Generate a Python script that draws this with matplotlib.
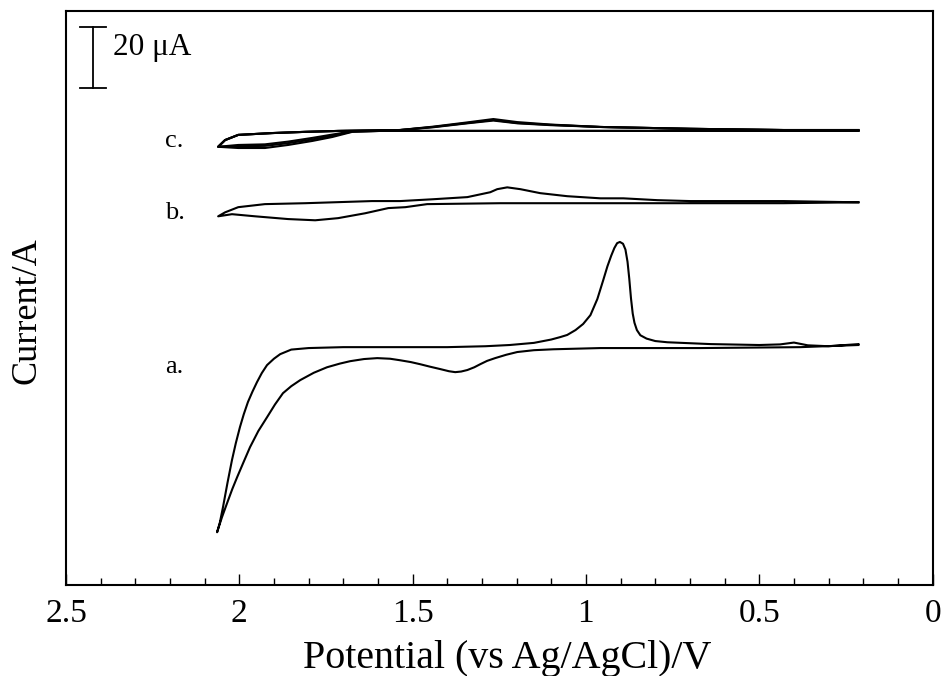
import numpy as np
import matplotlib
matplotlib.use("Agg")
import matplotlib.pyplot as plt
from matplotlib.ticker import MultipleLocator

plt.rcParams['font.family'] = ['Liberation Serif', 'DejaVu Serif']

# curve a : forward scan (0.21 V -> 2.06 V), current in uA
a_fwd_V = [0.214, 0.30, 0.36, 0.40, 0.44, 0.50, 0.64, 0.765, 0.80, 0.825, 0.843, 0.853,
           0.860, 0.865, 0.870, 0.875, 0.880, 0.886, 0.893, 0.902, 0.910, 0.918, 0.927,
           0.938, 0.950, 0.967, 0.987, 1.008, 1.030, 1.054, 1.074, 1.10, 1.15, 1.22, 1.29,
           1.40, 1.55, 1.70, 1.80, 1.85, 1.882, 1.90, 1.920, 1.935, 1.949, 1.962, 1.975,
           1.987, 1.998, 2.010, 2.021, 2.034, 2.047, 2.056, 2.064]
a_fwd_I = [1.0, 0.3, 0.6, 1.5, 0.9, 0.7, 1.0, 1.6, 2.0, 2.8, 3.9, 5.6,
           8.0, 11.0, 16.0, 22.5, 28.0, 32.0, 33.9, 34.5, 34.1, 32.5, 30.0,
           26.5, 22.0, 15.8, 10.5, 7.6, 5.6, 4.0, 3.3, 2.5, 1.4, 0.7, 0.3,
           0.0, 0.0, 0.0, -0.3, -0.8, -2.3, -3.8, -5.9, -8.5, -11.5, -14.6, -18.0,
           -22.0, -26.2, -31.5, -37.0, -44.5, -52.5, -57.5, -60.7]
# curve a : reverse scan (2.06 V -> 0.21 V)
a_rev_V = [2.064, 2.050, 2.035, 2.020, 2.006, 1.988, 1.969, 1.945, 1.920, 1.897, 1.874,
           1.850, 1.824, 1.785, 1.747, 1.710, 1.680, 1.640, 1.602, 1.565, 1.536, 1.505,
           1.478, 1.450, 1.420, 1.395, 1.377, 1.360, 1.342, 1.322, 1.305, 1.285, 1.262,
           1.230, 1.198, 1.150, 1.094, 0.958, 0.670, 0.381, 0.214]
a_rev_I = [-60.7, -55.8, -51.1, -46.5, -42.6, -37.8, -32.8, -27.5, -23.0, -18.8, -15.1,
           -12.8, -10.8, -8.4, -6.6, -5.4, -4.6, -3.9, -3.6, -3.8, -4.3, -4.9,
           -5.6, -6.4, -7.2, -7.9, -8.2, -8.0, -7.5, -6.6, -5.6, -4.5, -3.6,
           -2.5, -1.6, -1.0, -0.7, -0.3, -0.3, 0.0, 0.7]

# curve b
b_fwd_V = [0.214, 0.430, 0.699, 0.794, 0.892, 0.958, 1.054, 1.132, 1.189, 1.227, 1.256,
           1.276, 1.342, 1.441, 1.536, 1.617, 1.810, 1.926, 2.003, 2.041, 2.061]
b_fwd_I = [0.3, 0.7, 0.7, 1.0, 1.6, 1.6, 2.3, 3.3, 4.6, 5.2, 4.6,
           3.6, 2.0, 1.3, 0.7, 0.7, 0.0, -0.3, -1.3, -3.0, -4.3]
b_rev_V = [2.061, 2.021, 1.954, 1.859, 1.781, 1.715, 1.637, 1.570, 1.521, 1.458, 1.247,
           0.430, 0.214]
b_rev_I = [-4.3, -3.6, -4.3, -5.2, -5.6, -4.9, -3.3, -1.6, -1.3, -0.3, 0.0,
           0.0, 0.3]

# curve c (three overlapping cycles)
c_fwd_V = [0.214, 0.430, 0.699, 0.958, 1.103, 1.198, 1.267, 1.342, 1.441, 1.536, 1.715,
           1.810, 1.905, 2.003, 2.041, 2.061]
c_fwd_I1 = [0.3, 0.3, 0.7, 1.3, 2.0, 2.6, 3.6, 2.6, 1.3, 0.3, 0.0,
            -0.3, -0.7, -1.3, -3.0, -5.2]
c_fwd_I2 = [0.3, 0.3, 0.7, 1.3, 2.1, 2.9, 3.9, 2.8, 1.4, 0.3, 0.0,
            -0.3, -0.7, -1.3, -3.0, -5.2]
c_fwd_I3 = [0.3, 0.3, 0.7, 1.3, 1.9, 2.5, 3.4, 2.5, 1.2, 0.3, 0.0,
            -0.3, -0.7, -1.3, -3.0, -5.2]
c_rev_V = [2.061, 2.003, 1.926, 1.859, 1.790, 1.732, 1.674, 1.594, 1.247, 0.214]
c_rev_I1 = [-5.2, -5.6, -5.6, -4.6, -3.3, -2.0, -0.3, 0.0, 0.0, 0.0]
c_rev_I2 = [-5.2, -5.0, -4.9, -4.0, -2.8, -1.6, -0.2, 0.0, 0.0, 0.0]
c_rev_I3 = [-5.2, -4.6, -4.4, -3.5, -2.3, -1.2, -0.1, 0.0, 0.0, 0.0]

labels = ["a.", "b.", "c."]
offsets = [78.0, 125.2, 148.9]   # vertical stacking in uA

fig = plt.figure(figsize=(9.42, 6.76), dpi=100)
ax = fig.add_axes([0.070, 0.1346, 0.920, 0.849])

lw = 1.5
def cv(V1, I1, V2, I2, off):
    V = list(V1) + list(V2)
    I = np.array(list(I1) + list(I2)) + off
    ax.plot(V, I, color='black', lw=lw, solid_joinstyle='round')

cv(a_fwd_V, a_fwd_I, a_rev_V, a_rev_I, offsets[0])
cv(b_fwd_V, b_fwd_I, b_rev_V, b_rev_I, offsets[1])
for fI, rI in [(c_fwd_I1, c_rev_I1), (c_fwd_I2, c_rev_I2), (c_fwd_I3, c_rev_I3)]:
    cv(c_fwd_V, fI, c_rev_V, rI, offsets[2])

# curve labels
ax.text(2.214, 71.5, labels[0], fontsize=19, ha='left', va='center')
ax.text(2.214, 122.0, labels[1], fontsize=19, ha='left', va='center')
ax.text(2.214, 145.6, labels[2], fontsize=19, ha='left', va='center')

# 20 uA scale bar
ax.plot([2.422, 2.422], [163.0, 183.0], color='black', lw=1.3)
ax.plot([2.46, 2.385], [163.0, 163.0], color='black', lw=1.3)
ax.plot([2.46, 2.385], [183.0, 183.0], color='black', lw=1.3)
ax.text(2.364, 176.1, "20 μA", fontsize=22.5, ha='left', va='center')

ax.set_xlim(2.5, 0)
ax.set_ylim(0, 188.2)
ax.xaxis.set_major_locator(MultipleLocator(0.5))
ax.xaxis.set_minor_locator(MultipleLocator(0.1))
ax.set_xticks([2.5, 2.0, 1.5, 1.0, 0.5, 0.0])
ax.set_xticklabels(["2.5", "2", "1.5", "1", "0.5", "0"])
ax.tick_params(axis='x', which='major', direction='in', length=8, width=1, labelsize=24, pad=10)
ax.tick_params(axis='x', which='minor', direction='in', length=5, width=1)
ax.set_yticks([])
for s in ax.spines.values():
    s.set_linewidth(1.5)

fig.text(0.539, 0.026, "Potential (vs Ag/AgCl)/V", fontsize=28.8, ha='center', va='center')
fig.text(0.029, 0.54, "Current/A", fontsize=26, ha='center', va='center', rotation=90)

fig.savefig("out.png", dpi=100)
